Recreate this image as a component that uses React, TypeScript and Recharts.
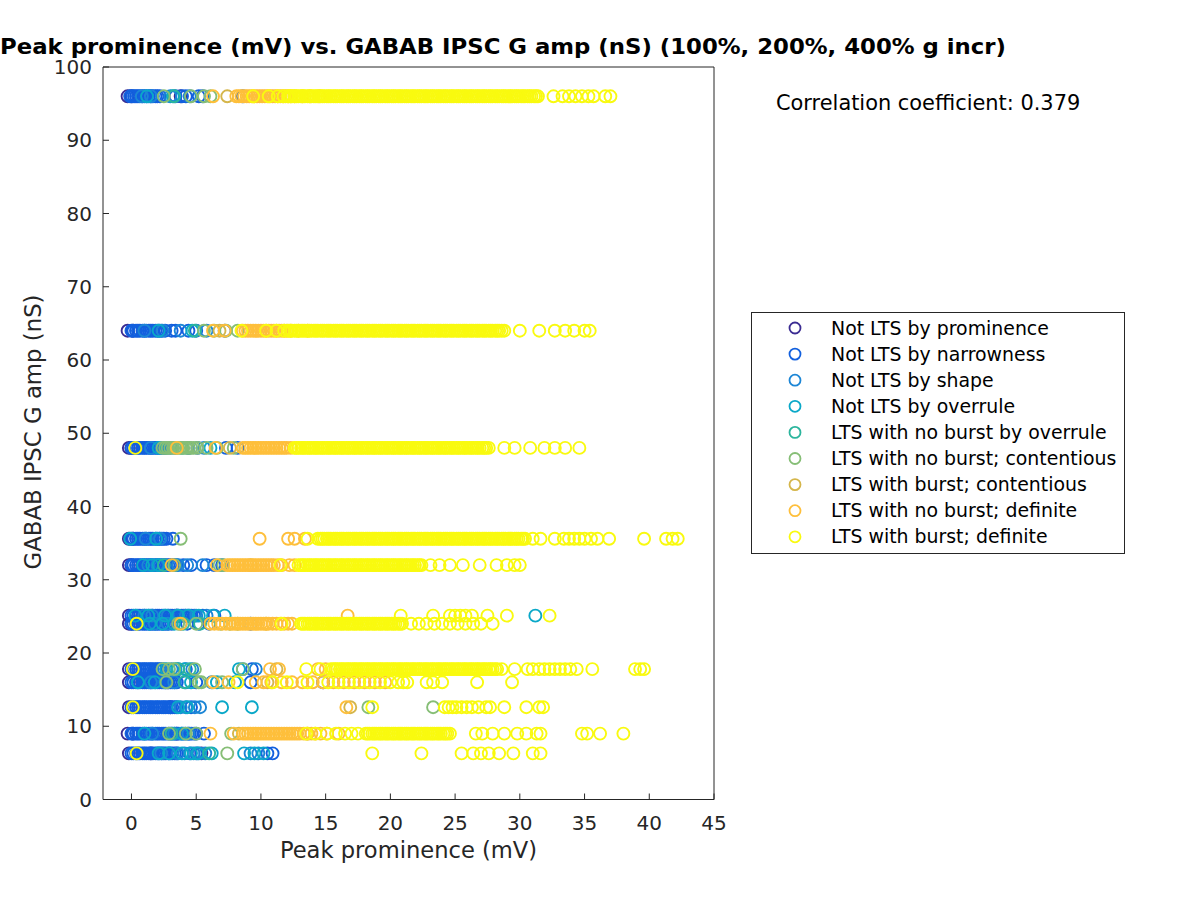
import React from 'react';
import { ScatterChart, Scatter, XAxis, YAxis } from 'recharts';

const Y_LEVELS = [96, 64, 48, 35.6, 32, 25.1, 24, 17.8, 16, 12.6, 9, 6.3];
const X_TICKS = [0, 5, 10, 15, 20, 25, 30, 35, 40, 45];
const Y_TICKS = [0, 10, 20, 30, 40, 50, 60, 70, 80, 90, 100];

const CATEGORY_LABELS = [
  'Not LTS by prominence',
  'Not LTS by narrowness',
  'Not LTS by shape',
  'Not LTS by overrule',
  'LTS with no burst by overrule',
  'LTS with no burst; contentious',
  'LTS with burst; contentious',
  'LTS with no burst; definite',
  'LTS with burst; definite',
];
const CATEGORY_COLORS = [
  '#3B2C92', '#1260DE', '#1C86D6', '#0AA8C8', '#2CB59D',
  '#86BE76', '#D5B64B', '#FEBF3B', '#F9FA0F',
];

const TITLE = 'Peak prominence (mV) vs. GABAB IPSC G amp (nS) (100%, 200%, 400% g incr)';
const X_LABEL = 'Peak prominence (mV)';
const Y_LABEL = 'GABAB IPSC G amp (nS)';
const CORR_TEXT = 'Correlation coefficient: 0.379';

// x values per y level (same order as Y_LEVELS)
const prominenceX: number[][] = [
  [-0.3, 0.0, 3.8],
  [-0.3, 0.1],
  [-0.2, 0.0],
  [-0.2, 0.1],
  [-0.2, 0.0],
  [-0.2, 3.5],
  [-0.2, 0.0],
  [-0.2, 0.1],
  [-0.2, 2.8],
  [-0.2, 3.0],
  [-0.3, 0.1, 3.5],
  [-0.2, 1.5, 5.4],
];

const narrownessX: number[][] = [
  [-0.1, 0.05, 0.2, 0.35, 0.5, 0.65, 0.85, 1.0, 1.15, 1.35, 1.5, 1.65, 1.85, 2.0, 2.2, 3.4, 3.9, 4.2, 5.2, 5.5, 8.6],
  [0.0, 0.15, 0.35, 0.5, 0.65, 0.85, 1.0, 1.15, 1.35, 1.5, 1.65, 1.85, 2.0, 2.15, 2.3, 2.6, 3.1, 3.4, 4.4, 5.0, 7.2],
  [0.0, 0.15, 0.35, 0.5, 0.65, 0.85, 1.0, 1.15, 1.35, 1.5, 1.65, 1.85, 2.0, 2.15, 2.35, 2.5, 2.65, 3.0, 3.4, 4.4, 5.1, 7.3, 8.2],
  [0.0, 0.15, 0.35, 0.5, 0.65, 0.85, 1.0, 1.15, 1.35, 1.5, 1.65, 1.85, 2.0, 2.15, 2.35, 2.5, 2.7, 3.2],
  [0.0, 0.15, 0.35, 0.5, 0.65, 0.85, 1.0, 1.15, 1.35, 1.5, 1.65, 1.85, 2.0, 2.15, 2.35, 2.5, 2.65, 2.85, 3.0, 3.15, 3.35, 3.5, 4.0, 4.6, 5.8, 6.4, 7.0],
  [0.0, 0.15, 0.35, 0.5, 0.65, 0.85, 1.0, 1.15, 1.35, 1.5, 1.65, 1.85, 2.0, 2.15, 2.35, 2.5, 2.65, 2.85, 3.0, 3.15, 3.35, 3.5, 3.65, 3.85, 4.0, 4.15, 4.35, 4.5, 4.65, 4.85, 5.5, 6.4],
  [0.0, 0.15, 0.35, 0.5, 0.65, 0.85, 1.0, 1.15, 1.35, 1.5, 1.65, 1.85, 2.0, 2.15, 2.35, 2.5, 2.65, 2.85, 3.1, 4.3, 5.2, 6.0, 9.2],
  [0.0, 0.15, 0.35, 0.5, 0.65, 0.85, 1.0, 1.15, 1.35, 1.5, 1.65, 1.85, 2.0, 2.15, 2.3, 3.6, 4.2, 9.3],
  [0.0, 0.15, 0.35, 0.5, 0.65, 0.85, 1.0, 1.15, 1.35, 1.5, 1.65, 1.85, 2.0, 2.15, 2.35, 2.5, 2.65, 2.85, 3.0, 3.15, 3.35, 3.5, 4.2, 5.0, 9.2, 14.8],
  [0.0, 0.15, 0.35, 0.5, 0.65, 0.85, 1.0, 1.15, 1.35, 1.5, 1.65, 1.85, 2.0, 2.15, 2.35, 2.5, 2.65, 2.85, 3.0, 3.15, 3.35, 3.5, 4.6],
  [0.0, 0.15, 0.35, 0.5, 0.65, 0.85, 1.0, 1.15, 1.35, 1.5, 1.65, 1.85, 2.0, 2.15, 2.35, 2.5, 2.65, 2.85, 3.0, 3.15, 3.35, 3.5, 3.65, 3.85, 4.0, 4.15, 4.35, 4.5, 4.65, 4.85, 5.0, 5.6],
  [0.0, 0.15, 0.35, 0.5, 0.65, 0.85, 1.0, 1.15, 1.35, 1.5, 1.65, 1.85, 2.0, 2.15, 2.35, 2.5, 2.65, 2.85, 3.0, 3.15, 3.35, 3.5, 4.5, 5.0, 10.5, 10.9],
];

const shapeX: number[][] = [
  [0.8, 1.5, 3.0, 4.5],
  [1.0, 2.4, 3.8, 5.8],
  [1.5, 2.3, 4.4, 5.6],
  [1.1, 2.2],
  [1.3, 2.0, 3.6, 4.3, 5.5],
  [1.0, 1.6, 2.8, 3.5, 4.2, 5.0, 5.8],
  [1.8, 2.8, 3.8],
  [2.5, 3.1, 4.7, 8.6, 9.6],
  [1.5, 2.6, 3.3, 6.2],
  [3.8, 4.2, 4.9, 5.3],
  [1.6, 3.3, 4.4],
  [2.3, 3.6, 4.1, 4.8, 5.2, 5.7, 9.2, 9.8],
];

const overruleX: number[][] = [
  [1.2, 3.2],
  [2.1, 4.7],
  [2.1, 3.9, 6.1],
  [-0.1, 1.9],
  [0.9, 1.6, 2.1],
  [0.3, 1.3, 2.6, 3.6, 4.4, 5.2, 6.3, 7.2, 31.2],
  [1.4, 2.4, 3.3],
  [2.7, 3.4, 4.1, 8.3],
  [0.5, 1.8, 4.6, 6.6, 8.0],
  [3.6, 4.3, 7.0, 9.3],
  [1.0, 3.9],
  [2.1, 2.9, 3.9, 4.6, 5.1, 6.2, 8.7, 9.5, 10.2],
];

const ltsOverruleX: number[][] = [
  [3.3], [4.9], [2.7], [], [2.5], [], [4.0, 5.3], [3.6, 4.5], [4.1], [], [3.1], [6.0],
];

const noBurstContentiousX: number[][] = [
  [2.5, 4.6, 5.6, 6.1],
  [5.6, 6.4, 7.3, 8.2],
  [2.4, 2.6, 2.8, 3.0, 3.2, 3.4, 3.6, 3.8, 4.0, 4.2, 4.4, 4.6, 4.8, 5.1, 5.8, 6.6, 7.9],
  [3.8],
  [3.3, 6.8, 7.1],
  [],
  [3.6, 5.0, 6.9, 7.6, 8.2],
  [2.4, 2.9, 3.3, 4.9, 8.6],
  [2.7, 5.2, 5.4, 7.0],
  [18.3, 23.3],
  [2.9, 4.2, 5.0, 7.7],
  [7.4],
];

const burstContentiousX: number[][] = [
  [7.4], [6.8], [7.6], [], [9.2], [], [10.4], [11.2], [10.5], [16.9], [8.3, 13.6], [],
];

const noBurstDefiniteX: number[][] = [
  [6.3, 8.1, 8.3, 8.5, 8.7, 8.9, 9.1, 9.3, 9.5, 9.7, 9.9, 10.1, 10.3, 10.5, 10.7, 10.9, 11.1, 11.3, 11.5, 11.7,
    11.9, 12.1, 12.3, 12.6, 13.2, 13.8, 14.5],
  [6.3, 7.2, 8.6, 8.8, 9.0, 9.2, 9.4, 9.6, 9.8, 10.0, 10.2, 10.4, 10.6, 10.8, 11.0, 11.2, 11.4, 11.6, 11.8,
    12.0, 12.3, 12.9, 13.6],
  [3.5, 6.5, 8.6, 8.8, 9.0, 9.2, 9.4, 9.6, 9.8, 10.0, 10.2, 10.4, 10.6, 10.8, 11.0, 11.2, 11.4, 11.6, 11.8,
    12.0, 12.3],
  [9.9, 12.1, 12.6, 13.4],
  [3.1, 6.6, 7.4, 7.6, 7.8, 8.0, 8.2, 8.4, 8.6, 8.8, 9.0, 9.2, 9.4, 9.6, 9.8, 10.0, 10.2, 10.4, 10.6, 10.8,
    11.0, 11.3, 11.6, 12.2, 12.6],
  [16.7],
  [3.8, 6.1, 6.4, 6.7, 7.0, 7.3, 7.6, 7.8, 8.0, 8.2, 8.4, 8.6, 8.8, 9.0, 9.2, 9.4, 9.6, 9.8, 10.0, 10.2,
    10.4, 10.6, 10.9, 11.2, 11.5, 11.8, 12.1, 12.4],
  [10.7, 11.4, 14.4, 15.0],
  [6.3, 7.5, 9.6, 10.2, 10.8, 11.6, 12.4, 13.2, 14.0, 14.8, 15.6, 16.4, 17.2, 18.0, 18.8, 19.6],
  [16.6],
  [6.1, 7.9, 8.6, 8.8, 9.0, 9.2, 9.4, 9.6, 9.8, 10.0, 10.2, 10.4, 10.6, 10.8, 11.0, 11.2, 11.4, 11.6, 11.8,
    12.0, 12.2, 12.4, 12.6, 12.8, 13.0, 13.3, 13.6, 13.9, 14.2, 14.6, 15.1, 16.0],
  [],
];

const burstDefiniteX: number[][] = [
  [9.4, 10.6, 11.3, 11.75,
    12.1, 12.25, 12.4, 12.6, 12.75, 12.9, 13.1, 13.25, 13.4, 13.6, 13.75, 13.9,
    14.1, 14.25, 14.4, 14.6, 14.75, 14.9, 15.1, 15.25, 15.4, 15.6, 15.75, 15.9,
    16.1, 16.25, 16.4, 16.6, 16.75, 16.9, 17.1, 17.25, 17.4, 17.6, 17.75, 17.9,
    18.1, 18.25, 18.4, 18.6, 18.75, 18.9, 19.1, 19.25, 19.4, 19.6, 19.75, 19.9,
    20.1, 20.25, 20.4, 20.6, 20.75, 20.9, 21.1, 21.25, 21.4, 21.6, 21.75, 21.9,
    22.1, 22.25, 22.4, 22.6, 22.75, 22.9, 23.1, 23.25, 23.4, 23.6, 23.75, 23.9,
    24.1, 24.25, 24.4, 24.6, 24.75, 24.9, 25.1, 25.25, 25.4, 25.6, 25.75, 25.9,
    26.1, 26.25, 26.4, 26.6, 26.75, 26.9, 27.1, 27.25, 27.4, 27.6, 27.75, 27.9,
    28.1, 28.25, 28.4, 28.6, 28.75, 28.9, 29.1, 29.25, 29.4, 29.6, 29.75, 29.9,
    30.1, 30.25, 30.4, 30.6, 30.75, 30.9, 31.1, 31.25, 31.4,
    32.6, 33.3, 33.8, 34.3, 34.8, 35.3, 35.7, 36.6, 37.0],
  [8.5, 10.4, 11.2, 11.8,
    12.1, 12.25, 12.4, 12.6, 12.75, 12.9, 13.1, 13.25, 13.4, 13.6, 13.75, 13.9,
    14.1, 14.25, 14.4, 14.6, 14.75, 14.9, 15.1, 15.25, 15.4, 15.6, 15.75, 15.9,
    16.1, 16.25, 16.4, 16.6, 16.75, 16.9, 17.1, 17.25, 17.4, 17.6, 17.75, 17.9,
    18.1, 18.25, 18.4, 18.6, 18.75, 18.9, 19.1, 19.25, 19.4, 19.6, 19.75, 19.9,
    20.1, 20.25, 20.4, 20.6, 20.75, 20.9, 21.1, 21.25, 21.4, 21.6, 21.75, 21.9,
    22.1, 22.25, 22.4, 22.6, 22.75, 22.9, 23.1, 23.25, 23.4, 23.6, 23.75, 23.9,
    24.1, 24.25, 24.4, 24.6, 24.75, 24.9, 25.1, 25.25, 25.4, 25.6, 25.75, 25.9,
    26.1, 26.25, 26.4, 26.6, 26.75, 26.9, 27.1, 27.25, 27.4, 27.6, 27.75, 27.9,
    28.1, 28.25, 28.4, 28.6, 28.8,
    30.0, 31.5, 32.7, 33.5, 34.2, 35.0, 35.4],
  [0.3, 12.6, 12.75, 12.9, 13.1, 13.25, 13.4, 13.6, 13.75, 13.9,
    14.1, 14.25, 14.4, 14.6, 14.75, 14.9, 15.1, 15.25, 15.4, 15.6, 15.75, 15.9,
    16.1, 16.25, 16.4, 16.6, 16.75, 16.9, 17.1, 17.25, 17.4, 17.6, 17.75, 17.9,
    18.1, 18.25, 18.4, 18.6, 18.75, 18.9, 19.1, 19.25, 19.4, 19.6, 19.75, 19.9,
    20.1, 20.25, 20.4, 20.6, 20.75, 20.9, 21.1, 21.25, 21.4, 21.6, 21.75, 21.9,
    22.1, 22.25, 22.4, 22.6, 22.75, 22.9, 23.1, 23.25, 23.4, 23.6, 23.75, 23.9,
    24.1, 24.25, 24.4, 24.6, 24.75, 24.9, 25.1, 25.25, 25.4, 25.6, 25.75, 25.9,
    26.1, 26.25, 26.4, 26.6, 26.75, 26.9, 27.1, 27.25, 27.4, 27.6,
    28.8, 29.6, 30.8, 31.9, 32.7, 33.5, 34.6],
  [13.6, 14.4, 14.6, 14.75, 14.9, 15.1, 15.25, 15.4, 15.6, 15.75, 15.9,
    16.1, 16.25, 16.4, 16.6, 16.75, 16.9, 17.1, 17.25, 17.4, 17.6, 17.75, 17.9,
    18.1, 18.25, 18.4, 18.6, 18.75, 18.9, 19.1, 19.25, 19.4, 19.6, 19.75, 19.9,
    20.1, 20.25, 20.4, 20.6, 20.75, 20.9, 21.1, 21.25, 21.4, 21.6, 21.75, 21.9,
    22.1, 22.25, 22.4, 22.6, 22.75, 22.9, 23.1, 23.25, 23.4, 23.6, 23.75, 23.9,
    24.1, 24.25, 24.4, 24.6, 24.75, 24.9, 25.1, 25.25, 25.4, 25.6, 25.75, 25.9,
    26.1, 26.25, 26.4, 26.6, 26.75, 26.9, 27.1, 27.25, 27.4, 27.6, 27.75, 27.9,
    28.1, 28.25, 28.4, 28.6, 28.75, 28.9, 29.1, 29.25, 29.4, 29.6, 29.75, 29.9,
    30.1, 30.25, 30.4,
    31.0, 31.6, 32.7, 33.4, 33.8, 34.2, 34.6, 35.0, 35.5, 36.0, 36.9, 39.6, 41.3, 41.8, 42.2],
  [11.5, 12.9, 13.1, 13.25, 13.4, 13.6, 13.75, 13.9,
    14.1, 14.25, 14.4, 14.6, 14.75, 14.9, 15.1, 15.25, 15.4, 15.6, 15.75, 15.9,
    16.1, 16.25, 16.4, 16.6, 16.75, 16.9, 17.1, 17.25, 17.4, 17.6, 17.75, 17.9,
    18.1, 18.25, 18.4, 18.6, 18.75, 18.9, 19.1, 19.25, 19.4, 19.6, 19.75, 19.9,
    20.1, 20.25, 20.4, 20.6, 20.75, 20.9, 21.1, 21.25, 21.4, 21.6, 21.75, 21.9,
    22.1, 22.25, 22.4,
    23.1, 23.8, 24.6, 25.6, 26.9, 28.2, 29.0, 29.6, 30.0],
  [20.8, 23.3, 24.6, 25.0, 25.4, 25.8, 26.3, 27.5, 29.0, 32.3],
  [0.4, 11.6, 13.1, 13.25, 13.4, 13.6, 13.75, 13.9,
    14.1, 14.25, 14.4, 14.6, 14.75, 14.9, 15.1, 15.25, 15.4, 15.6, 15.75, 15.9,
    16.1, 16.25, 16.4, 16.6, 16.75, 16.9, 17.1, 17.25, 17.4, 17.6, 17.75, 17.9,
    18.1, 18.25, 18.4, 18.6, 18.75, 18.9, 19.1, 19.25, 19.4, 19.6, 19.75, 19.9,
    20.1, 20.25, 20.4, 20.6, 20.75, 20.9,
    21.6, 22.2, 22.8, 23.4, 24.0, 24.6, 25.2, 25.8, 26.4, 27.0, 27.9],
  [0.1, 13.5, 14.6, 15.4, 15.6, 15.75, 15.9,
    16.1, 16.25, 16.4, 16.6, 16.75, 16.9, 17.1, 17.25, 17.4, 17.6, 17.75, 17.9,
    18.1, 18.25, 18.4, 18.6, 18.75, 18.9, 19.1, 19.25, 19.4, 19.6, 19.75, 19.9,
    20.1, 20.25, 20.4, 20.6, 20.75, 20.9, 21.1, 21.25, 21.4, 21.6, 21.75, 21.9,
    22.1, 22.25, 22.4, 22.6, 22.75, 22.9, 23.1, 23.25, 23.4, 23.6, 23.75, 23.9,
    24.1, 24.25, 24.4, 24.6, 24.75, 24.9, 25.1, 25.25, 25.4, 25.6, 25.75, 25.9,
    26.1, 26.25, 26.4, 26.6, 26.75, 26.9, 27.1, 27.25, 27.4, 27.6, 27.75, 27.9,
    28.1, 28.25,
    28.6, 29.6, 30.6, 31.0, 31.5, 31.9, 32.3, 32.7, 33.1, 33.5, 33.9, 34.4, 35.6, 38.9, 39.3, 39.6],
  [8.2, 10.9, 12.0, 13.6, 15.2, 16.0, 16.8, 17.6, 18.4, 19.2, 20.0, 20.6, 21.0, 21.3, 22.8, 23.3, 24.0, 26.7, 29.4],
  [0.1, 18.6, 24.2, 24.5, 24.8, 25.1, 25.5, 25.9, 26.3, 26.8, 27.4, 27.7, 28.8, 30.5, 31.5, 31.8],
  [13.5, 14.2, 15.1, 15.8, 16.5, 17.0, 17.5,
    18.1, 18.25, 18.4, 18.6, 18.75, 18.9, 19.1, 19.25, 19.4, 19.6, 19.75, 19.9,
    20.1, 20.25, 20.4, 20.6, 20.75, 20.9, 21.1, 21.25, 21.4, 21.6, 21.75, 21.9,
    22.1, 22.25, 22.4, 22.6, 22.75, 22.9, 23.1, 23.25, 23.4, 23.6, 23.75, 23.9,
    24.1, 24.25, 24.4, 24.6,
    26.6, 27.1, 27.9, 28.8, 29.8, 30.5, 31.3, 31.6, 34.8, 35.2, 36.2, 38.0],
  [0.4, 18.6, 22.4, 25.5, 26.4, 27.0, 27.6, 28.4, 29.5, 31.0, 31.6],
];

const CATEGORY_X = [
  prominenceX, narrownessX, shapeX, overruleX, ltsOverruleX,
  noBurstContentiousX, burstContentiousX, noBurstDefiniteX, burstDefiniteX,
];

const toPoints = (rows: number[][]) =>
  rows.flatMap((row, i) => row.map((x) => ({ x, y: Y_LEVELS[i] })));

const FONT = 'DejaVu Sans, sans-serif';
const AXIS_COLOR = '#262626';

const ring = (color: string) => (props: any) => (
  <circle cx={props.cx} cy={props.cy} r={6} fill="none" stroke={color} strokeWidth={1.9} />
);

export default function App() {
  return (
    <div style={{ position: 'absolute', left: 0, top: 0, width: 1200, height: 900, background: '#fff' }}>
      <ScatterChart width={1200} height={900} margin={{ top: 66, right: 485, bottom: 70.5, left: 43 }}>
        <XAxis
          xAxisId="b"
          type="number"
          dataKey="x"
          domain={[-2.2, 45]}
          allowDataOverflow
          ticks={X_TICKS}
          interval={0}
          height={30}
          tickSize={-6}
          tickMargin={22}
          axisLine={{ stroke: AXIS_COLOR }}
          tickLine={{ stroke: AXIS_COLOR }}
          tick={{ fill: AXIS_COLOR, fontSize: 20, fontFamily: FONT }}
        />
        <XAxis
          xAxisId="t"
          orientation="top"
          type="number"
          dataKey="x"
          domain={[-2.2, 45]}
          allowDataOverflow
          ticks={X_TICKS}
          interval={0}
          height={1}
          tickSize={-6}
          tick={false}
          axisLine={{ stroke: AXIS_COLOR }}
          tickLine={{ stroke: AXIS_COLOR }}
        />
        <YAxis
          yAxisId="l"
          type="number"
          dataKey="y"
          domain={[0, 100]}
          allowDataOverflow
          ticks={Y_TICKS}
          interval={0}
          width={60}
          tickSize={-6}
          tickMargin={17}
          axisLine={{ stroke: AXIS_COLOR }}
          tickLine={{ stroke: AXIS_COLOR }}
          tick={{ fill: AXIS_COLOR, fontSize: 20, fontFamily: FONT }}
        />
        <YAxis
          yAxisId="r"
          orientation="right"
          type="number"
          dataKey="y"
          domain={[0, 100]}
          allowDataOverflow
          ticks={Y_TICKS}
          interval={0}
          width={1}
          tickSize={-6}
          tick={false}
          axisLine={{ stroke: AXIS_COLOR }}
          tickLine={{ stroke: AXIS_COLOR }}
        />
        <Scatter
          name="frame"
          xAxisId="t"
          yAxisId="r"
          data={toPoints(prominenceX)}
          shape={() => <g />}
          isAnimationActive={false}
        />
        {CATEGORY_X.map((rows, i) => (
          <Scatter
            key={CATEGORY_LABELS[i]}
            name={CATEGORY_LABELS[i]}
            xAxisId="b"
            yAxisId="l"
            data={toPoints(rows)}
            shape={ring(CATEGORY_COLORS[i])}
            isAnimationActive={false}
          />
        ))}
      </ScatterChart>
      <svg
        width={1200}
        height={900}
        style={{ position: 'absolute', left: 0, top: 0, pointerEvents: 'none' }}
        fontFamily={FONT}
      >
        <text x={0} y={54} fontSize={22} fontWeight="bold" fill="#000" textLength={1006} lengthAdjust="spacingAndGlyphs">
          {TITLE}
        </text>
        <text x={776} y={110} fontSize={20.9} fill="#000">{CORR_TEXT}</text>
        <text x={408.5} y={858} fontSize={22.6} fill={AXIS_COLOR} textAnchor="middle">{X_LABEL}</text>
        <text x={41} y={432} fontSize={22.8} fill={AXIS_COLOR} textAnchor="middle" transform="rotate(-90 41 432)">
          {Y_LABEL}
        </text>
        <rect x={751.5} y={312.5} width={373} height={241} fill="#fff" stroke={AXIS_COLOR} strokeWidth={1} />
        {CATEGORY_LABELS.map((label, i) => {
          const cy = 328 + i * 26.1;
          return (
            <g key={label}>
              <circle cx={795} cy={cy} r={5.5} fill="none" stroke={CATEGORY_COLORS[i]} strokeWidth={1.8} />
              <text x={831} y={cy + 6.5} fontSize={18.9} fill="#000">{label}</text>
            </g>
          );
        })}
      </svg>
    </div>
  );
}
